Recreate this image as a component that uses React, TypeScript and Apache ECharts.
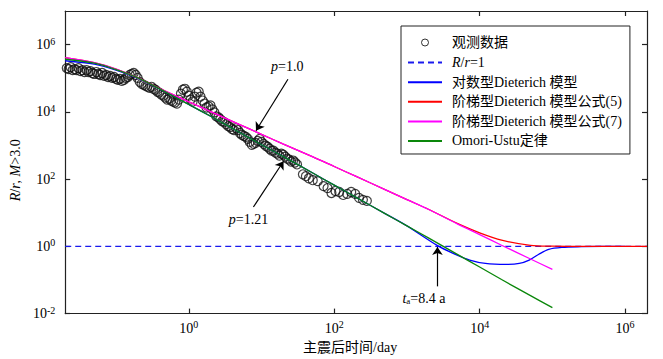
import React, { useEffect, useRef } from 'react';
import * as echarts from 'echarts';

const FONT = "'Liberation Serif', 'Times New Roman', 'Noto Sans CJK SC', serif";

// observed data (days after mainshock, rate ratio)
const obsT = [0.021, 0.0223, 0.0238, 0.0253, 0.0269, 0.0286, 0.0305, 0.0324, 0.0345, 0.0368, 0.0392, 0.0417, 0.0444, 0.0472, 0.0502, 0.0535, 0.0569, 0.0605, 0.0644, 0.0686, 0.073, 0.0777, 0.0827, 0.0881, 0.0937, 0.0998, 0.106, 0.113, 0.12, 0.128, 0.136, 0.145, 0.154, 0.164, 0.175, 0.186, 0.198, 0.211, 0.224, 0.239, 0.254, 0.27, 0.288, 0.306, 0.326, 0.347, 0.369, 0.393, 0.418, 0.445, 0.473, 0.504, 0.536, 0.571, 0.607, 0.647, 0.688, 0.732, 0.779, 0.83, 0.883, 0.94, 1.0, 1.06, 1.13, 1.21, 1.28, 1.37, 1.45, 1.55, 1.65, 1.75, 1.87, 1.99, 2.11, 2.25, 2.39, 2.55, 2.71, 2.88, 3.07, 3.27, 3.48, 3.7, 3.94, 4.19, 4.47, 4.75, 5.06, 5.38, 5.73, 6.1, 6.49, 6.9, 7.35, 7.82, 8.32, 8.85, 9.42, 10.0, 10.7, 11.4, 12.1, 12.9, 13.7, 14.6, 15.5, 16.5, 17.6, 18.7, 19.9, 21.2, 22.5, 24.0, 25.5, 27.2, 28.9, 30.8, 37.1, 40.8, 44.8, 50.7, 59.3, 71.4, 80.9, 91.6, 104, 117, 133, 151, 171, 194, 219, 248, 281];
const obsR = [2.0e5, 1.87e5, 2.14e5, 1.75e5, 1.87e5, 1.75e5, 2.0e5, 1.63e5, 1.75e5, 1.53e5, 1.75e5, 1.53e5, 1.63e5, 1.43e5, 1.34e5, 1.53e5, 1.34e5, 1.25e5, 1.43e5, 1.17e5, 1.25e5, 1.09e5, 1.17e5, 1.02e5, 1.09e5, 9.55e4, 8.92e4, 9.55e4, 8.34e4, 8.92e4, 1.02e5, 1.09e5, 1.25e5, 1.34e5, 1.43e5, 1.25e5, 1.02e5, 7.8e4, 6.81e4, 6.37e4, 5.96e4, 5.57e4, 5.2e4, 5.57e4, 4.86e4, 4.55e4, 3.97e4, 3.72e4, 3.25e4, 3.04e4, 2.65e4, 2.32e4, 2.48e4, 2.17e4, 2.03e4, 1.9e4, 1.77e4, 2.32e4, 3.48e4, 4.55e4, 4.86e4, 3.97e4, 3.04e4, 2.32e4, 2.03e4, 2.84e4, 3.72e4, 3.97e4, 2.84e4, 2.17e4, 1.77e4, 1.35e4, 1.45e4, 1.55e4, 1.18e4, 9.66e3, 7.38e3, 6.9e3, 6.03e3, 5.27e3, 4.93e3, 4.31e3, 3.77e3, 3.52e3, 3.08e3, 2.88e3, 3.29e3, 2.88e3, 2.35e3, 2.06e3, 1.92e3, 1.8e3, 1.57e3, 1.28e3, 1.05e3, 1.12e3, 1.2e3, 1.37e3, 1.57e3, 1.28e3, 1.12e3, 980, 916, 800, 700, 700, 612, 572, 500, 572, 535, 468, 408, 382, 334, 357, 312, 273, 139, 122, 106, 92.9, 86.9, 62.1, 54.2, 38.7, 44.3, 41.4, 33.8, 36.2, 41.4, 36.2, 27.7, 24.2, 22.6];

// Omori-Utsu (p = 1.21)
const omoriT = [0.02, 0.05, 0.1, 0.2, 0.5, 1, 2, 5, 10, 20, 50, 100, 200, 500, 1e3, 2e3, 5e3, 1e4, 2e4, 5e4, 1e5];
const omoriR = [3.67e5, 2.8e5, 1.81e5, 1.02e5, 3.72e4, 1.66e4, 7.38e3, 2.43e3, 1.05e3, 468, 154, 66.3, 28.6, 9.41, 4.06, 1.75, 0.568, 0.243, 0.103, 0.0341, 0.015];

// logarithmic Dieterich model
const logDT = [0.02, 0.05, 0.1, 0.2, 0.5, 1, 2, 5, 10, 20, 50, 100, 200, 500, 1e3, 2600, 4400, 7300, 1.2e4, 2.3e4, 3.5e4, 4.8e4, 6.5e4, 8.9e4, 1.35e5, 2.5e5, 5e5, 1e6];
const logDR = [3.31e5, 2.62e5, 1.75e5, 9.87e4, 3.72e4, 1.66e4, 7.38e3, 2.43e3, 1.05e3, 468, 154, 66.3, 28.6, 9.41, 4.06, 1.07, 0.608, 0.39, 0.31, 0.29, 0.31, 0.39, 0.583, 0.817, 0.935, 0.98, 1.0, 1.0];

// step Dieterich model, eq.(5)
const step5T = [0.02, 0.05, 0.1, 0.2, 0.5, 1, 2, 5, 10, 20, 50, 100, 200, 500, 1e3, 2e3, 5e3, 1e4, 2e4, 5e4, 1e5, 2e5, 5e5, 1e6, 2e6];
const step5R = [4.11e5, 2.9e5, 1.87e5, 1.02e5, 3.93e4, 2.0e4, 1.02e4, 4.2e3, 2.15e3, 1.1e3, 468, 237, 120, 48.7, 24.6, 12.5, 4.73, 2.53, 1.53, 1.07, 1.01, 1.0, 1.0, 1.0, 1.0];

// step Dieterich model, eq.(7) (p = 1.0)
const step7T = [0.02, 0.05, 0.1, 0.2, 0.5, 1, 2, 5, 10, 20, 50, 100, 200, 500, 1e3, 2e3, 5e3, 1e4, 2e4, 5e4, 1e5];
const step7R = [4.11e5, 2.9e5, 1.87e5, 1.02e5, 3.93e4, 2.0e4, 1.02e4, 4.2e3, 2.15e3, 1.1e3, 468, 237, 120, 48.7, 24.6, 12.5, 4.58, 2.23, 1.08, 0.42, 0.207];

// R/r = 1 reference
const refT = [0.02, 2e6];
const refR = [1, 1];

const xTicks = [1, 100, 1e4, 1e6];
const yTicks = [0.01, 1, 100, 1e4, 1e6];

const names = ['观测数据', 'R/r=1', '对数型Dieterich 模型', '阶梯型Dieterich 模型公式(5)', '阶梯型Dieterich 模型公式(7)', 'Omori-Ustu定律'];

const zip = (a: number[], b: number[]) => a.map((v, i) => [v, b[i]]);

const powLabel = (v: number) => {
  const e = Math.round(Math.log10(v));
  return `{b|10}{s|${e}}`;
};
const labelRich = {
  b: { fontFamily: FONT, fontSize: 14, color: '#000', lineHeight: 17 },
  s: { fontFamily: FONT, fontSize: 10, color: '#000', lineHeight: 10, verticalAlign: 'top' },
};
const textRich = {
  i: { fontFamily: FONT, fontSize: 14, fontStyle: 'italic', color: '#000' },
  n: { fontFamily: FONT, fontSize: 14, color: '#000' },
  sub: { fontFamily: FONT, fontSize: 9, color: '#000', verticalAlign: 'bottom', lineHeight: 9 },
};
const axisLineStyle = { color: '#222', width: 1.2 };

export default function App() {
  const ref = useRef<HTMLDivElement>(null);
  useEffect(() => {
    if (!ref.current) return;
    const chart = echarts.init(ref.current, undefined, { renderer: 'svg' });
    const xBase = {
      type: 'log' as const,
      logBase: 10,
      min: 0.02,
      max: 2e6,
      axisLine: { show: true, onZero: false, lineStyle: axisLineStyle },
      axisTick: { show: true, inside: true, length: 5, customValues: xTicks, lineStyle: axisLineStyle },
      splitLine: { show: false },
      minorTick: { show: false },
      minorSplitLine: { show: false },
    };
    const yBase = {
      type: 'log' as const,
      logBase: 10,
      min: 0.01,
      max: 1e7,
      axisLine: { show: true, onZero: false, lineStyle: axisLineStyle },
      axisTick: { show: true, inside: true, length: 5, customValues: yTicks, lineStyle: axisLineStyle },
      splitLine: { show: false },
      minorTick: { show: false },
      minorSplitLine: { show: false },
    };
    const lineSeries = (name: string, t: number[], r: number[], color: string, extra: any = {}) => ({
      type: 'line',
      name,
      data: zip(t, r),
      showSymbol: false,
      symbol: 'none',
      smooth: 0.3,
      lineStyle: { color, width: 1.3 },
      itemStyle: { color },
      ...extra,
    });
    const hiddenSym = { itemStyle: { color: 'transparent', borderColor: 'transparent', borderWidth: 0, opacity: 0 } };
    chart.setOption({
      animation: false,
      backgroundColor: '#fff',
      textStyle: { fontFamily: FONT },
      grid: { left: 56, right: 16, top: 11, bottom: 42.5, containLabel: false },
      legend: {
        left: 401,
        top: 26,
        orient: 'vertical',
        itemWidth: 34,
        itemHeight: 14,
        itemGap: 5.6,
        padding: [9, 8, 6, 6],
        borderColor: '#222',
        borderWidth: 1,
        backgroundColor: '#fff',
        selectedMode: false,
        textStyle: { fontFamily: FONT, fontSize: 14, color: '#000', padding: [0, 0, 0, 5], rich: textRich },
        formatter: (name: string) => (name === 'R/r=1' ? '{i|R}{n|/}{i|r}{n|=1}' : name),
        data: [
          {
            name: names[0],
            icon: 'path://M0,0M34,0M34,14M0,14M20.5,7A3.5,3.5,0,1,1,13.5,7A3.5,3.5,0,1,1,20.5,7Z',
            itemStyle: { color: 'transparent', borderColor: '#000', borderWidth: 1 },
          },
          { name: names[1], ...hiddenSym },
          { name: names[2], ...hiddenSym },
          { name: names[3], ...hiddenSym },
          { name: names[4], ...hiddenSym },
          { name: names[5], ...hiddenSym },
        ],
      },
      xAxis: [
        {
          ...xBase,
          position: 'bottom',
          axisLabel: { customValues: xTicks, formatter: powLabel, rich: labelRich, margin: 6 },
          name: '主震后时间/day',
          nameLocation: 'middle',
          nameGap: 20,
          nameTextStyle: { fontFamily: FONT, fontSize: 14, color: '#000', padding: [0, 12, 0, 0] },
        },
        { ...xBase, position: 'top', axisLabel: { show: false } },
      ],
      yAxis: [
        {
          ...yBase,
          position: 'left',
          axisLabel: { customValues: yTicks, formatter: powLabel, rich: labelRich, margin: 10 },
          name: '{i|R}{n|/}{i|r}{n|, }{i|M}{n|>3.0}',
          nameLocation: 'middle',
          nameGap: 33,
          nameTextStyle: { rich: textRich, padding: [0, 16, 0, 0] },
        },
        { ...yBase, position: 'right', axisLabel: { show: false } },
      ],
      series: [
        {
          type: 'scatter',
          name: names[0],
          data: zip(obsT, obsR),
          symbol: 'circle',
          symbolSize: 9,
          itemStyle: { color: 'transparent', borderColor: '#111', borderWidth: 1.2 },
        },
        lineSeries(names[1], refT, refR, '#1a1aee', { smooth: false, lineStyle: { color: '#1a1aee', width: 1.3, type: [6, 4] } }),
        lineSeries(names[2], logDT, logDR, '#0000ff'),
        lineSeries(names[3], step5T, step5R, '#ff0000'),
        lineSeries(names[4], step7T, step7R, '#ff00ff'),
        lineSeries(names[5], omoriT, omoriR, '#0a870a', {
          markLine: {
            silent: true,
            symbol: ['none', 'arrow'],
            symbolSize: 8,
            lineStyle: { color: '#000', width: 1.2, type: 'solid' },
            label: { show: false },
            data: [
              [{ coord: [23.1, 9.35e4] }, { coord: [8.4, 2.75e3] }],
              [{ coord: [7.74, 14.8] }, { coord: [20.1, 340] }],
              [{ coord: [2627, 0.0646] }, { coord: [2627, 0.954] }],
            ],
          },
          markPoint: {
            silent: true,
            symbol: 'circle',
            symbolSize: 0,
            itemStyle: { color: 'transparent' },
            label: { show: true, position: 'inside', rich: textRich },
            data: [
              { coord: [22.6, 2.29e5], label: { formatter: '{i|p}{n|=1.0}' } },
              { coord: [6.63, 6.29], label: { formatter: '{i|p}{n|=1.21}' } },
              { coord: [1714, 0.0288], label: { formatter: '{i|t}{sub|a}{n|=8.4 a}' } },
            ],
          },
        }),
      ],
    });
    return () => chart.dispose();
  }, []);
  return <div ref={ref} style={{ position: 'absolute', left: 0, top: 0, width: 663, height: 359, background: '#fff' }} />;
}
